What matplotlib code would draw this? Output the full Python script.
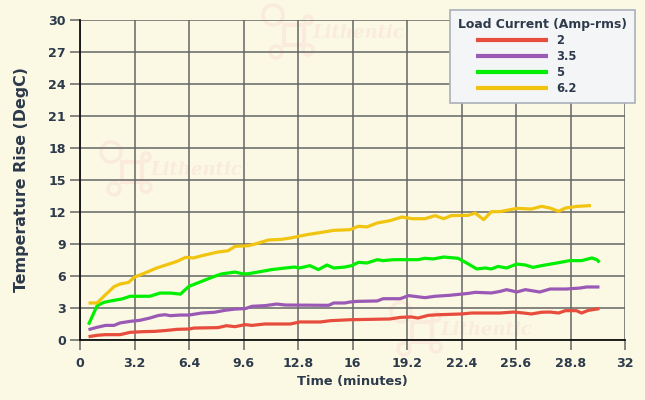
import matplotlib.pyplot as plt
from matplotlib.patches import Ellipse, Rectangle
from matplotlib.legend_handler import HandlerLine2D
import numpy as np

# readings per load current (minutes, degC)
t_2 = [0.5, 1.0, 1.5, 2.35, 2.95, 3.7, 4.4, 5.1, 5.7, 6.4, 6.7, 8.1, 8.6, 9.1, 9.7, 10.1,
       10.85, 12.35, 12.9, 14.1, 14.7, 15.85, 18.2, 18.8, 19.45, 19.85, 20.45, 21.05, 22.4,
       23.0, 24.65, 25.45, 26.05, 26.5, 27.1, 27.6, 28.1, 28.5, 29.15, 29.45, 29.85, 30.5]
v_2 = [0.31, 0.44, 0.5, 0.5, 0.72, 0.78, 0.81, 0.9, 1.0, 1.03, 1.12, 1.16, 1.34, 1.25, 1.44, 1.37,
       1.5, 1.5, 1.69, 1.69, 1.81, 1.9, 1.97, 2.12, 2.16, 2.06, 2.31, 2.37, 2.44,
       2.53, 2.53, 2.62, 2.53, 2.44, 2.6, 2.62, 2.53, 2.75, 2.75, 2.53, 2.78, 2.94]

t_35 = [0.5, 1.0, 1.5, 2.0, 2.35, 2.95, 3.5, 4.1, 4.6, 5.0, 5.3, 5.9, 6.4, 7.15, 7.9, 8.5,
        9.1, 9.7, 10.1, 10.85, 11.55, 12.05, 14.6, 14.9, 15.55, 15.85, 16.25, 17.45, 17.8,
        18.8, 19.3, 20.25, 20.85, 21.7, 22.8, 23.2, 24.15, 24.65, 25.05, 25.65, 26.15, 27.0,
        27.6, 28.55, 29.35, 29.75, 30.5]
v_35 = [0.97, 1.19, 1.37, 1.37, 1.6, 1.75, 1.84, 2.06, 2.3, 2.37, 2.28, 2.34, 2.34, 2.53, 2.6, 2.78,
        2.9, 2.94, 3.16, 3.22, 3.37, 3.28, 3.25, 3.47, 3.47, 3.56, 3.62, 3.66, 3.87,
        3.87, 4.16, 3.97, 4.1, 4.19, 4.37, 4.47, 4.41, 4.55, 4.72, 4.5, 4.72, 4.5,
        4.78, 4.78, 4.87, 4.97, 4.97]

t_5 = [0.5, 1.0, 1.4, 2.0, 2.45, 2.95, 4.1, 4.7, 5.3, 5.9, 6.2, 6.4, 7.15, 7.9, 8.3, 9.1,
       9.6, 9.9, 10.7, 11.25, 12.05, 12.6, 12.9, 13.5, 14.0, 14.5, 14.9, 15.55, 15.95, 16.35,
       16.85, 17.45, 17.8, 18.4, 19.85, 20.25, 20.75, 21.35, 22.2, 22.7, 23.3, 23.8, 24.15,
       24.55, 25.05, 25.65, 26.15, 26.6, 27.2, 28.0, 28.75, 29.45, 30.05, 30.35, 30.5]
v_5 = [1.44, 3.2, 3.53, 3.72, 3.84, 4.1, 4.1, 4.4, 4.4, 4.3, 4.75, 5.03, 5.5, 5.97, 6.19, 6.37,
       6.19, 6.22, 6.44, 6.6, 6.75, 6.84, 6.75, 6.97, 6.6, 7.03, 6.75, 6.84, 6.97, 7.28,
       7.22, 7.53, 7.44, 7.53, 7.53, 7.66, 7.6, 7.78, 7.66, 7.22, 6.66, 6.75, 6.66,
       6.9, 6.75, 7.12, 7.03, 6.81, 7.0, 7.22, 7.44, 7.44, 7.69, 7.53, 7.28]

t_62 = [0.5, 1.0, 1.5, 2.0, 2.35, 2.85, 3.2, 3.9, 4.5, 5.1, 5.7, 6.2, 6.65, 7.15, 8.1, 8.7,
        9.1, 9.9, 10.5, 11.05, 11.85, 12.35, 13.3, 14.3, 14.9, 15.85, 16.35, 16.85, 17.45,
        18.2, 18.9, 19.5, 20.25, 20.85, 21.35, 21.8, 22.8, 23.2, 23.7, 24.15, 24.65, 25.65,
        26.5, 27.1, 27.6, 28.1, 28.5, 29.2, 30.0]
v_62 = [3.47, 3.47, 4.25, 5.0, 5.25, 5.4, 5.9, 6.34, 6.75, 7.06, 7.37, 7.75, 7.69, 7.9, 8.25, 8.37,
        8.78, 8.84, 9.1, 9.37, 9.44, 9.56, 9.87, 10.12, 10.28, 10.34, 10.66, 10.6, 10.97,
        11.19, 11.53, 11.37, 11.37, 11.66, 11.37, 11.66, 11.69, 11.9, 11.28, 12.03, 12.03, 12.34,
        12.28, 12.53, 12.37, 12.06, 12.37, 12.53, 12.6]

labels = ['2', '3.5', '5', '6.2']
colors = ['#e74c3c', '#9b59b6', '#00ee00', '#f1c40f']
x_ticks = [0, 3.2, 6.4, 9.6, 12.8, 16, 19.2, 22.4, 25.6, 28.8, 32]
x_labels = ['0', '3.2', '6.4', '9.6', '12.8', '16', '19.2', '22.4', '25.6', '28.8', '32']

bg = '#fbf9e4'
txt = '#2d3a4b'
W, H = 645, 400


class IndentHandler(HandlerLine2D):
    # legend line drawn only in the right part of the handle box
    def create_artists(self, legend, orig_handle, xdescent, ydescent, width, height, fontsize, trans):
        shift = 0.2 * width
        return super().create_artists(legend, orig_handle, xdescent - shift, ydescent,
                                      width - shift, height, fontsize, trans)


fig = plt.figure(figsize=(W/100, H/100), dpi=100, facecolor=bg)
ax = fig.add_axes([80/W, 60/H, 545/W, 320/H])
ax.set_facecolor('none')

# faint watermarks
wm = '#faebdc'
for (tx, ty) in [(312, 33), (150, 170), (440, 330)]:
    fig.text(tx/W, 1 - ty/H, 'Lithentic', fontsize=13, fontstyle='italic', fontweight='bold',
             family='DejaVu Serif', color=wm, va='center', zorder=-1)
    for (cx, cy, r) in [(-39, -18, 10), (-4, -13, 4), (-36, 19, 6), (-4, 17, 5)]:
        fig.patches.append(Ellipse(((tx + cx)/W, 1 - (ty + cy)/H), 2*r/W, 2*r/H,
                                   transform=fig.transFigure, fill=False,
                                   ec=wm, lw=2.5, zorder=-1))
    fig.patches.append(Rectangle(((tx - 28)/W, 1 - (ty + 12)/H), 20/W, 20/H,
                                 transform=fig.transFigure, fill=False,
                                 ec=wm, lw=3, zorder=-1))

series = [(t_2, v_2), (t_35, v_35), (t_5, v_5), (t_62, v_62)]
for (t, v), lab, c in zip(series, labels, colors):
    ax.plot(t, v, color=c, lw=2.3, label=lab, zorder=3, solid_capstyle='butt')

ax.set_xlim(0, 32)
ax.set_ylim(0, 30)
ax.set_xticks(x_ticks)
ax.set_xticklabels(x_labels)
ax.set_yticks(np.arange(0, 31, 3))
ax.grid(True, color='#666666', lw=1.1)
ax.set_axisbelow(True)
for s in ['top', 'right']:
    ax.spines[s].set_visible(False)
for s in ['left', 'bottom']:
    ax.spines[s].set_color('#111111')
    ax.spines[s].set_linewidth(1.3)
ax.tick_params(axis='both', colors='#666666', labelcolor=txt, labelsize=9.1, width=1.1)
ax.tick_params(axis='y', length=7, pad=3)
ax.tick_params(axis='x', length=7, pad=5)
for lb in ax.get_xticklabels() + ax.get_yticklabels():
    lb.set_fontweight('bold')

ax.set_xlabel('Time (minutes)', fontsize=9.4, fontweight='bold', color=txt, labelpad=4)
ax.set_ylabel('Temperature Rise (DegC)', fontsize=11.4, fontweight='bold', color=txt, labelpad=14)

leg = ax.legend(title='Load Current (Amp-rms)', loc='upper right', alignment='left',
                bbox_to_anchor=(635/W, 1 - 10/H), bbox_transform=fig.transFigure,
                borderaxespad=0, prop={'size': 8.3, 'weight': 'bold'}, title_fontsize=8.9,
                frameon=True, fancybox=False, handlelength=7.8, handletextpad=0.75,
                labelspacing=0.25, borderpad=0.7, labelcolor=txt,
                handler_map={plt.Line2D: IndentHandler()})
leg.get_title().set_fontweight('bold')
leg.get_title().set_color(txt)
leg.get_frame().set_facecolor('#f4f5f7')
leg.get_frame().set_edgecolor('#aab0bb')
leg.get_frame().set_alpha(1)
leg.get_frame().set_linewidth(1.2)
for h in leg.get_lines():
    h.set_linewidth(3)

fig.savefig('out.png', dpi=100, facecolor=bg)
